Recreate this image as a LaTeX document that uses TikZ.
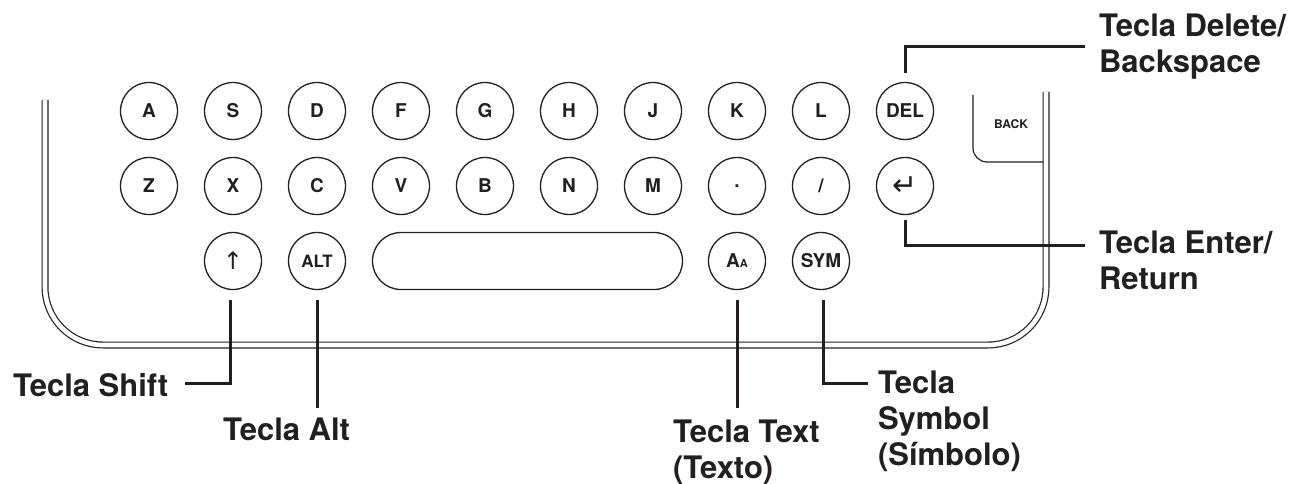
\documentclass[tikz,border=0pt]{standalone}
\usepackage{fontspec}
\setmainfont{TeX Gyre Heros}
\newfontfamily\arrowfont{DejaVu Sans}
\usetikzlibrary{positioning}
\definecolor{ink}{HTML}{231F20}

\begin{document}
\begin{tikzpicture}[x=1pt, y=-1pt, node distance=18pt and 27pt, outer sep=0pt,
    key/.style={circle, draw=ink, line width=1.3pt, minimum size=57pt, inner sep=0pt, text=ink, font=\bfseries\fontsize{19}{19}\selectfont},
    callout/.style={anchor=base west, inner sep=0pt, align=left, text=ink, font=\bfseries\fontsize{31}{36}\selectfont},
    leader/.style={line width=3pt, draw=ink}]
    \useasboundingbox (0,0) rectangle (1300,484);

    % case outline and back key
    \draw[ink, line width=1.2pt, double, double distance=4.6pt, rounded corners=58pt] (45,100) |- (1046,345) -- (1046,92);
    \draw[ink, line width=1.2pt, rounded corners=14pt] (973,95) |- (1043,162);
    \node[text=ink, font=\bfseries\fontsize{12}{12}\selectfont] (back) at (1011,124) {BACK};

    % first row
    \node[key] (a) at (149,111) {A};
    \node[key, right=of a] (s) {S};
    \node[key, right=of s] (d) {D};
    \node[key, right=of d] (f) {F};
    \node[key, right=of f] (g) {G};
    \node[key, right=of g] (h) {H};
    \node[key, right=of h] (j) {J};
    \node[key, right=of j] (k) {K};
    \node[key, right=of k] (l) {L};
    \node[key, right=of l] (del) {DEL};

    % second row
    \node[key, below=of a] (z) {Z};
    \node[key, right=of z] (x) {X};
    \node[key, right=of x] (c) {C};
    \node[key, right=of c] (v) {V};
    \node[key, right=of v] (b) {B};
    \node[key, right=of b] (n) {N};
    \node[key, right=of n] (m) {M};
    \node[key, right=of m] (dot) {.};
    \node[key, right=of dot] (slash) {/};
    \node[key, right=of slash] (enter) {\arrowfont\mdseries\fontsize{30}{30}\selectfont ↵};

    % third row
    \node[key, below=of x] (shift) {\arrowfont\mdseries\fontsize{24}{24}\selectfont ↑};
    \node[key, below=of c, font=\bfseries\fontsize{17}{17}\selectfont] (alt) {ALT};
    \node[draw=ink, line width=1.3pt, rounded corners=28.5pt, minimum width=310pt, minimum height=57pt, right=of alt] (space) {};
    \node[key, below=of dot] (aa) {A\fontsize{11}{11}\selectfont A};
    \node[key, below=of slash] (sym) {SYM};

    % callouts (placed at the baseline of their last line)
    \node[callout] (dellbl) at (1099,73) {Tecla Delete/\\Backspace};
    \node[callout] (entlbl) at (1099,289) {Tecla Enter/\\Return};
    \node[callout] (shiftlbl) at (13,396) {Tecla Shift};
    \node[callout] (altlbl) at (223,440) {Tecla Alt};
    \node[callout] (textlbl) at (673,478) {Tecla Text\\(Texto)};
    \node[callout] (symlbl) at (878,465) {Tecla\\Symbol\\(Símbolo)};

    \coordinate (delend) at (1085,47);
    \coordinate (entend) at (1085,245);
    \coordinate (shiftend) at (185,383);
    \coordinate (altend) at (317,408);
    \coordinate (textend) at (737,408);
    \coordinate (symend) at (868,383);

    \draw[leader] ([yshift=9pt]del.north) |- (delend);
    \draw[leader] ([yshift=-5pt]enter.south) |- (entend);
    \draw[leader] ([xshift=-3pt, yshift=-10pt]shift.south) |- (shiftend);
    \draw[leader] ([yshift=-10pt]alt.south) -- (altend);
    \draw[leader] ([yshift=-10pt]aa.south) -- (textend);
    \draw[leader] ([xshift=2pt, yshift=-10pt]sym.south) |- (symend);
\end{tikzpicture}
\end{document}
